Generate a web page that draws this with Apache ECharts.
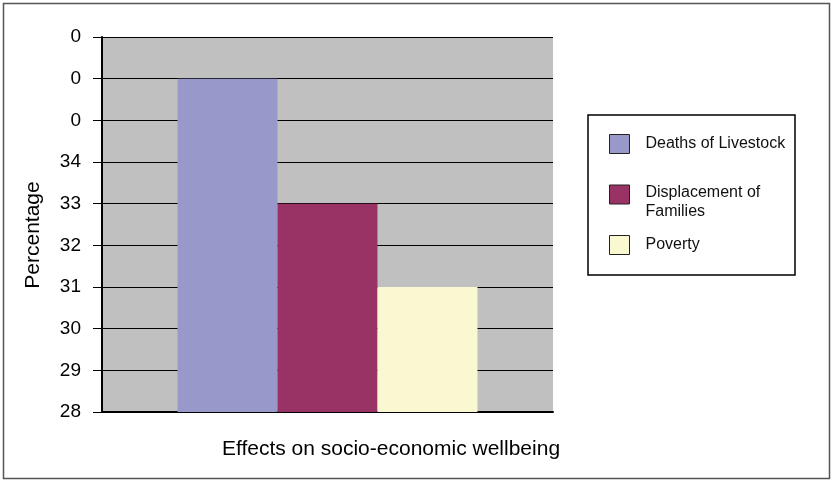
<!DOCTYPE html>
<html>
<head>
<meta charset="utf-8">
<script src="https://cdn.jsdelivr.net/npm/echarts@6/dist/echarts.min.js"></script>
<style>
  html, body { margin: 0; padding: 0; background: #fff; }
  #main { width: 832px; height: 481px; }
</style>
</head>
<body>
<div id="main"></div>
<script>
// data
const categories = [''];
const seriesNames = ['Deaths of Livestock', 'Displacement of Families', 'Poverty'];
const livestockValues = [36];
const displacementValues = [33];
const povertyValues = [31];
// y tick labels as printed (the top three show "0")
const yTickLabels = ['28', '29', '30', '31', '32', '33', '34', '0', '0', '0'];

const colors = ['#9898ca', '#993366', '#faf8d0'];
const font = 'Liberation Sans, Arial, sans-serif';

let chart = echarts.init(document.getElementById('main'));

let option = {
    animation: false,
    textStyle: { fontFamily: font },
    grid: {
        left: 102,
        top: 37,
        right: 279,
        bottom: 69,
        show: true,
        backgroundColor: '#c0c0c0',
        borderWidth: 0
    },
    legend: {
        orient: 'vertical',
        left: 609,
        top: 134,
        padding: 0,
        itemWidth: 20,
        itemHeight: 19,
        itemGap: 13.5,
        icon: 'rect',
        itemStyle: { borderColor: '#222', borderWidth: 1 },
        textStyle: {
            fontSize: 16, color: '#111', lineHeight: 19, fontFamily: font, padding: [0, 0, 0, 11],
            rich: {
                s: { fontSize: 10, lineHeight: 16, height: 16 },
                t: { fontSize: 16, lineHeight: 19, color: '#111', fontFamily: font }
            }
        },
        formatter: function (name) {
            // the wrapped label hangs from the top of its swatch
            return name === 'Displacement of Families'
                ? '{s| }\n{t|Displacement of}\n{t|Families}'
                : name;
        },
        data: seriesNames
    },
    xAxis: {
        type: 'category',
        data: categories,
        axisLine: { lineStyle: { color: '#000', width: 2 } },
        axisTick: { show: false },
        axisLabel: { show: false }
    },
    yAxis: {
        type: 'value',
        min: 28,
        max: 37,
        interval: 1,
        axisLine: { show: true, lineStyle: { color: '#000', width: 2 } },
        axisTick: { show: true, length: 9, lineStyle: { color: '#000', width: 1 } },
        axisLabel: {
            margin: 21,
            fontSize: 19,
            color: '#000',
            fontFamily: font,
            formatter: function (v) { return yTickLabels[Math.round(v - 28)]; }
        },
        splitLine: { show: true, lineStyle: { color: '#000', width: 1 } }
    },
    series: [
        {
            name: seriesNames[0],
            type: 'bar',
            data: livestockValues,
            barGap: '0%',
            barCategoryGap: '33.5%',
            itemStyle: { color: colors[0] }
        },
        {
            name: seriesNames[1],
            type: 'bar',
            data: displacementValues,
            itemStyle: { color: colors[1] }
        },
        {
            name: seriesNames[2],
            type: 'bar',
            data: povertyValues,
            itemStyle: { color: colors[2] }
        }
    ],
    graphic: [
        {
            type: 'rect',
            silent: true,
            shape: { x: 3.5, y: 3.5, width: 826, height: 475 },
            style: { fill: null, stroke: '#555', lineWidth: 1.5 }
        },
        {
            type: 'rect',
            silent: true,
            shape: { x: 588, y: 115, width: 207, height: 160 },
            style: { fill: null, stroke: '#000', lineWidth: 1.5 }
        },
        {
            type: 'text',
            silent: true,
            x: 33,
            y: 235,
            rotation: Math.PI / 2,
            style: {
                text: 'Percentage',
                fontSize: 21,
                fill: '#000',
                fontFamily: font,
                align: 'center',
                verticalAlign: 'middle'
            }
        },
        {
            type: 'text',
            silent: true,
            x: 391,
            y: 449,
            style: {
                text: 'Effects on socio-economic wellbeing',
                fontSize: 21,
                fill: '#000',
                fontFamily: font,
                align: 'center',
                verticalAlign: 'middle'
            }
        }
    ]
};

chart.setOption(option);
</script>
</body>
</html>
